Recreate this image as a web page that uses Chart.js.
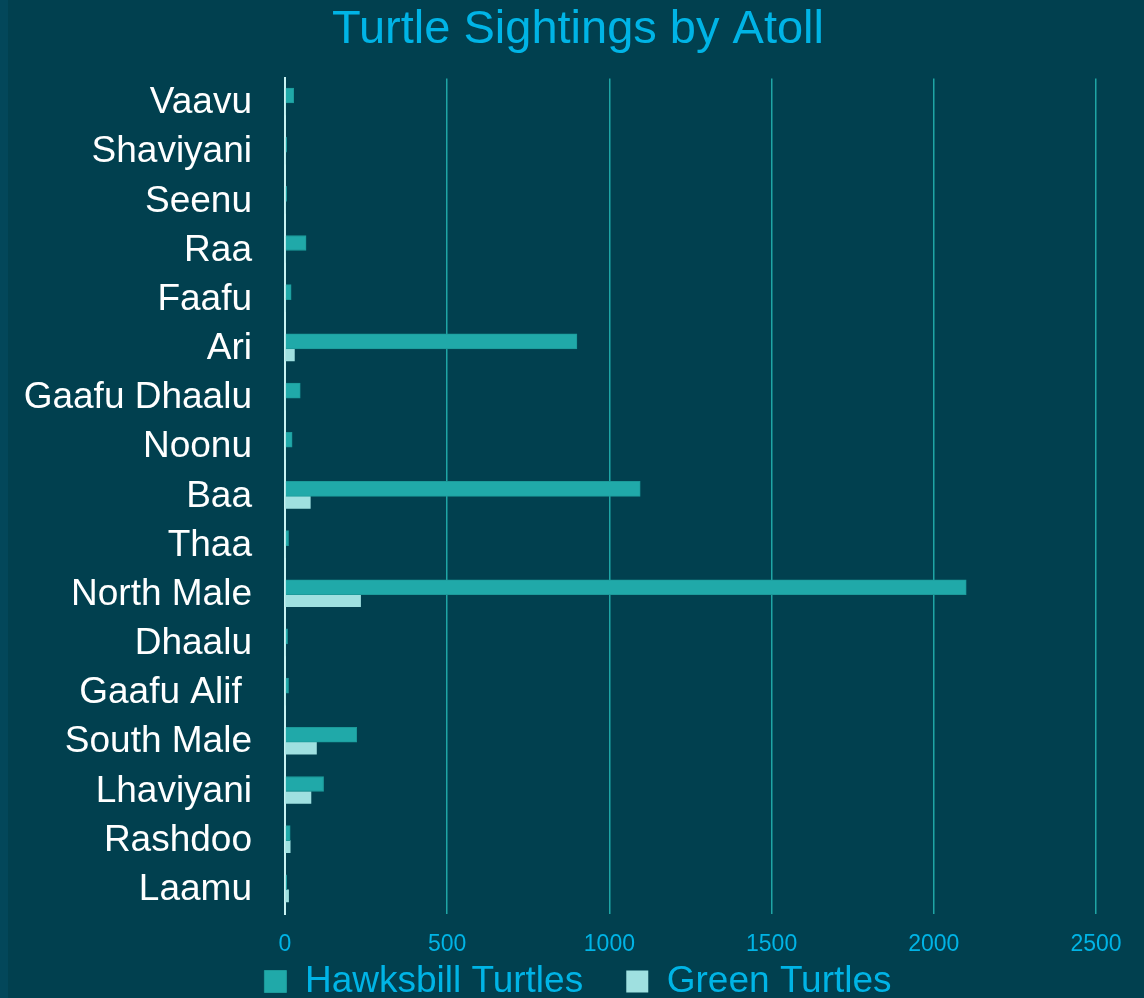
<!DOCTYPE html>
<html>
<head>
<meta charset="utf-8">
<script src="https://cdn.jsdelivr.net/npm/chart.js@4"></script>
<style>
  html, body { margin: 0; padding: 0; background: #03475a; }
  #wrap { position: absolute; left: 8px; top: 0; width: 1136px; height: 998px; background: #01404f; }
</style>
</head>
<body>
<div id="wrap"><canvas id="turtleChart" width="1136" height="998"></canvas></div>
<script>
// atolls, top to bottom as drawn
const atolls = ['Vaavu', 'Shaviyani', 'Seenu', 'Raa', 'Faafu', 'Ari', 'Gaafu Dhaalu', 'Noonu', 'Baa',
    'Thaa', 'North Male', 'Dhaalu', 'Gaafu Alif ', 'South Male', 'Lhaviyani', 'Rashdoo', 'Laamu'];
const hawksbill = [27, 5, 5, 65, 19, 900, 47, 22, 1095, 11, 2100, 8, 11, 221, 119, 16, 5];
const green = [0, 0, 0, 0, 0, 29, 0, 0, 78, 0, 233, 0, 0, 97, 80, 16, 11];
const xTicks = [0, 500, 1000, 1500, 2000, 2500];

const ctx = document.getElementById('turtleChart').getContext('2d');
const cyan = '#00b4e6';

const chart = new Chart(ctx, {
    type: 'bar',
    data: {
        labels: atolls,
        datasets: [{
            label: 'Hawksbill Turtles',
            data: hawksbill,
            backgroundColor: '#20a9a9',
            borderColor: '#1c9a9a',
            borderWidth: 1,
            barThickness: 15
        }, {
            label: 'Green Turtles',
            data: green,
            backgroundColor: '#9fe0e0',
            borderWidth: 0,
            barThickness: 12
        }]
    },
    options: {
        indexAxis: 'y',
        responsive: false,
        animation: false,
        layout: { padding: { left: 10, right: 6, top: 0, bottom: -12 } },
        plugins: {
            title: {
                display: true,
                text: 'Turtle Sightings by Atoll',
                color: cyan,
                font: { family: 'Liberation Sans', size: 47, weight: 'normal' },
                padding: { top: 2, bottom: 20 }
            },
            legend: {
                position: 'bottom',
                labels: {
                    color: cyan,
                    font: { family: 'Liberation Sans', size: 37 },
                    boxWidth: 22,
                    boxHeight: 22,
                    padding: 2,
                    // extra room between the two legend items
                    generateLabels: (c) => Chart.defaults.plugins.legend.labels.generateLabels(c)
                        .map((item, i) => ({ ...item, text: i === 0 ? item.text + '    ' : item.text }))
                }
            },
            tooltip: { enabled: false }
        },
        scales: {
            x: {
                min: 0,
                max: 2500,
                afterBuildTicks: (axis) => { axis.ticks = xTicks.map(v => ({ value: v })); },
                afterFit: (axis) => { axis.height -= 13; axis.paddingRight = 48; },
                grid: { color: '#1fa5a5', lineWidth: 1.5, drawTicks: false },
                border: { display: false },
                ticks: {
                    color: cyan,
                    font: { family: 'Liberation Sans', size: 23 },
                    padding: 16,
                    callback: (v) => String(v)
                }
            },
            y: {
                afterFit: (axis) => { axis.width = 267; },
                grid: { display: false, drawTicks: false },
                border: { color: '#c8f2f2', width: 2 },
                ticks: {
                    color: '#ffffff',
                    font: { family: 'Liberation Sans', size: 37 },
                    padding: 33,
                    autoSkip: false
                }
            }
        }
    }
});
</script>
</body>
</html>
